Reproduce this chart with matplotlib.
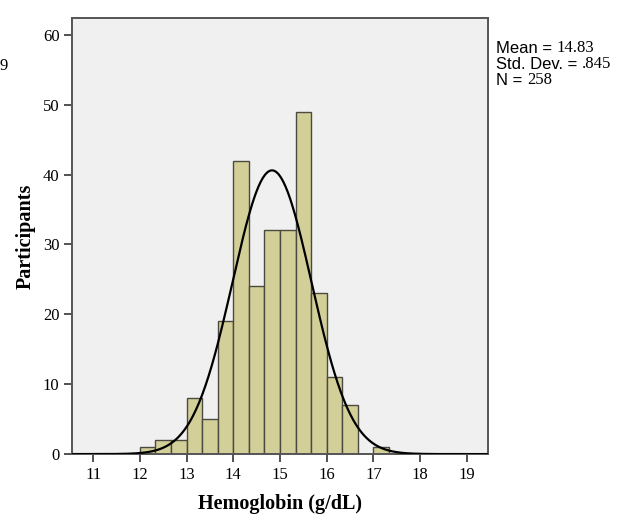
import numpy as np
import matplotlib
matplotlib.use('Agg')
import matplotlib.pyplot as plt

# histogram bins (width 1/3 g/dL) starting at 12.0
bin_edges = 12.0 + np.arange(16) / 3.0
counts = [1, 2, 2, 8, 5, 19, 42, 24, 32, 32, 49, 23, 11, 7, 0]
extra_left = [17.0]   # isolated bar 17.0-17.33
extra_count = [1]

mean_hb = 14.83
sd_hb = 0.845
n_total = 258

x_ticks = [11, 12, 13, 14, 15, 16, 17, 18, 19]
y_ticks = [0, 10, 20, 30, 40, 50, 60]

fig = plt.figure(figsize=(6.27, 5.16), dpi=100)
ax = fig.add_axes([0.115, 0.12, 0.663, 0.845])
ax.set_facecolor('#f0f0f0')

bar_color = '#d3cf98'
edge_color = '#4a4a40'
widths = np.diff(bin_edges)
ax.bar(bin_edges[:-1], counts, width=widths, align='edge', color=bar_color,
       edgecolor=edge_color, linewidth=1.0, zorder=2)
ax.bar(extra_left, extra_count, width=1/3, align='edge', color=bar_color,
       edgecolor=edge_color, linewidth=1.0, zorder=2)

# normal curve scaled to counts
xs = np.linspace(10.55, 19.45, 400)
bw = 1/3
ys = n_total * bw / (sd_hb * np.sqrt(2 * np.pi)) * np.exp(-0.5 * ((xs - mean_hb) / sd_hb) ** 2)
ax.plot(xs, ys, color='black', linewidth=1.6, zorder=3)

ax.set_xlim(10.55, 19.45)
ax.set_ylim(0, 62.4)
ax.set_xticks(x_ticks)
ax.set_yticks(y_ticks)
serif = 'Liberation Serif'
ax.set_xticklabels([str(t) for t in x_ticks], fontfamily=serif, fontsize=12)
ax.set_yticklabels([str(t) for t in y_ticks], fontfamily=serif, fontsize=12)
ax.tick_params(direction='out', length=6, width=1.2, color='#333333', pad=3)
for s in ax.spines.values():
    s.set_color('#555555')
    s.set_linewidth(1.4)

ax.set_xlabel('Hemoglobin (g/dL)', fontfamily=serif, fontsize=14.5, fontweight='bold', labelpad=8)
ax.set_ylabel('Participants', fontfamily=serif, fontsize=14.5, fontweight='bold', labelpad=5)

# stats box text (sans labels, serif numbers)
sans = 'Liberation Sans'
lines = [('Mean = ', '14.83'), ('Std. Dev. = ', '.845'), ('N = ', '258')]
y0 = 0.897
for i, (lab, val) in enumerate(lines):
    t = fig.text(0.791, y0 - i * 0.0305, lab, fontfamily=sans, fontsize=12, va='baseline')
    ax.annotate(val, xy=(1, 0), xycoords=t, va='bottom', ha='left',
                fontfamily=serif, fontsize=12, annotation_clip=False)

fig.text(0.0, 0.872, '9', fontfamily=serif, fontsize=12, va='center')

fig.savefig('out.png', dpi=100)
